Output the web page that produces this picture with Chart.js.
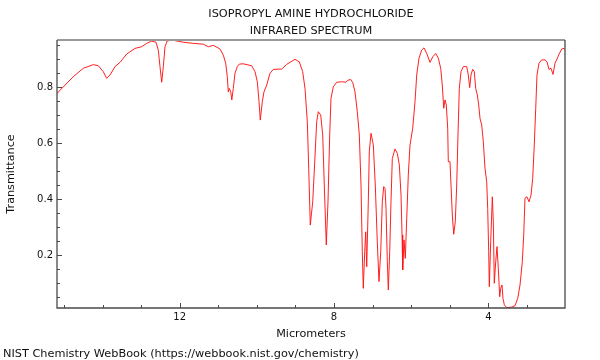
<!DOCTYPE html>
<html>
<head>
<meta charset="utf-8">
<script src="https://cdn.jsdelivr.net/npm/chart.js@4.4.1/dist/chart.umd.min.js"></script>
<style>
  html, body { margin: 0; padding: 0; background: #fff; }
  #wrap { width: 600px; height: 360px; }
</style>
</head>
<body>
<div id="wrap"><canvas id="c" width="600" height="360"></canvas></div>
<script>
const titleLines = ['ISOPROPYL AMINE HYDROCHLORIDE', 'INFRARED SPECTRUM'];
const xAxisTitle = 'Micrometers';
const yAxisTitle = 'Transmittance';
const footerText = 'NIST Chemistry WebBook (https://webbook.nist.gov/chemistry)';

const xTickLabels = [4, 8, 12];
const xMinorTicks = [3, 5, 6, 7, 9, 10, 11, 13, 14, 15];
const yTickLabels = [0.2, 0.4, 0.6, 0.8];
const yMinorTicks = [0.05, 0.1, 0.15, 0.25, 0.3, 0.35, 0.45, 0.5, 0.55, 0.65, 0.7, 0.75, 0.85, 0.9, 0.95];

const wavelengthUm = [
15.19, 14.759, 14.499, 14.240, 14.110, 13.981, 13.893, 13.807, 13.677, 13.548,
13.374, 13.159, 12.985, 12.856, 12.726, 12.615, 12.555, 12.511, 12.467, 12.425,
12.381, 12.322, 12.166, 11.907, 11.648, 11.388, 11.259, 11.129, 10.956, 10.870,
10.808, 10.766, 10.740, 10.714, 10.678, 10.650, 10.611, 10.567, 10.507, 10.455,
10.351, 10.134, 10.048, 9.988, 9.944, 9.911, 9.859, 9.815, 9.745, 9.659,
9.574, 9.444, 9.356, 9.226, 9.011, 8.900, 8.812, 8.752, 8.692, 8.656,
8.615, 8.552, 8.500, 8.449, 8.407, 8.345, 8.293, 8.252, 8.200, 8.156,
8.112, 8.078, 8.018, 7.930, 7.800, 7.689, 7.645, 7.567, 7.515, 7.456,
7.396, 7.344, 7.300, 7.267, 7.241, 7.204, 7.178, 7.152, 7.111, 7.085,
7.041, 6.981, 6.930, 6.878, 6.834, 6.789, 6.748, 6.712, 6.678, 6.652,
6.618, 6.592, 6.556, 6.523, 6.489, 6.419, 6.359, 6.307, 6.263, 6.237,
6.219, 6.185, 6.152, 6.115, 6.074, 6.030, 5.960, 5.900, 5.856, 5.797,
5.727, 5.667, 5.597, 5.511, 5.441, 5.364, 5.296, 5.234, 5.193, 5.156,
5.123, 5.089, 5.053, 5.037, 4.993, 4.967, 4.933, 4.897, 4.856, 4.819,
4.786, 4.752, 4.708, 4.648, 4.560, 4.519, 4.482, 4.449, 4.405, 4.363,
4.327, 4.285, 4.249, 4.215, 4.171, 4.130, 4.086, 4.042, 4.016, 3.990,
3.974, 3.938, 3.896, 3.870, 3.845, 3.808, 3.775, 3.741, 3.705, 3.679,
3.645, 3.619, 3.585, 3.523, 3.393, 3.308, 3.238, 3.178, 3.119, 3.082,
3.049, 2.997, 2.945, 2.893, 2.849, 2.808, 2.771, 2.738, 2.686, 2.616,
2.530, 2.478, 2.427, 2.375, 2.323, 2.271, 2.219, 2.167, 2.097, 2.038,
2.000
];

const transmittance = [
0.777, 0.838, 0.868, 0.881, 0.877, 0.856, 0.832, 0.844, 0.874, 0.889,
0.919, 0.939, 0.945, 0.957, 0.965, 0.961, 0.933, 0.874, 0.818, 0.874,
0.945, 0.966, 0.968, 0.961, 0.957, 0.954, 0.945, 0.950, 0.937, 0.915,
0.886, 0.838, 0.783, 0.796, 0.784, 0.755, 0.796, 0.850, 0.874, 0.883,
0.884, 0.877, 0.856, 0.820, 0.749, 0.683, 0.749, 0.784, 0.808, 0.850,
0.864, 0.865, 0.865, 0.882, 0.900, 0.891, 0.856, 0.796, 0.677, 0.511,
0.308, 0.391, 0.534, 0.677, 0.713, 0.701, 0.630, 0.451, 0.237, 0.391,
0.630, 0.761, 0.802, 0.818, 0.820, 0.818, 0.825, 0.828, 0.817, 0.784,
0.713, 0.630, 0.451, 0.213, 0.082, 0.213, 0.284, 0.159, 0.391, 0.570,
0.636, 0.594, 0.451, 0.249, 0.106, 0.213, 0.391, 0.445, 0.439, 0.368,
0.177, 0.076, 0.213, 0.391, 0.546, 0.580, 0.564, 0.523, 0.415, 0.273,
0.148, 0.255, 0.189, 0.332, 0.487, 0.594, 0.654, 0.749, 0.844, 0.904,
0.933, 0.941, 0.921, 0.889, 0.909, 0.921, 0.904, 0.868, 0.808, 0.725,
0.755, 0.737, 0.654, 0.534, 0.534, 0.451, 0.344, 0.275, 0.320, 0.451,
0.630, 0.796, 0.856, 0.874, 0.874, 0.844, 0.799, 0.844, 0.864, 0.856,
0.796, 0.773, 0.737, 0.689, 0.665, 0.606, 0.511, 0.463, 0.368, 0.213,
0.088, 0.249, 0.409, 0.320, 0.100, 0.177, 0.231, 0.154, 0.052, 0.082,
0.094, 0.046, 0.023, 0.013, 0.015, 0.020, 0.046, 0.094, 0.177, 0.273,
0.404, 0.409, 0.391, 0.415, 0.475, 0.594, 0.725, 0.844, 0.886, 0.898,
0.898, 0.891, 0.864, 0.868, 0.846, 0.886, 0.901, 0.918, 0.937, 0.939,
0.933
];

const X_MIN = 2.012, X_MAX = 15.181;
const Y_MIN = 0.0118, Y_MAX = 0.969;

const points = wavelengthUm.map((w, i) => ({ x: w, y: transmittance[i] }));

const FONT = 'DejaVu Sans';

const decorPlugin = {
  id: 'decor',
  afterDraw(chart) {
    const ctx = chart.ctx;
    const a = chart.chartArea;
    const xs = chart.scales.x, ys = chart.scales.y;
    ctx.save();
    // frame
    ctx.lineWidth = 2;
    ctx.strokeStyle = '#9a9a9a';
    ctx.beginPath(); ctx.moveTo(a.left, a.top); ctx.lineTo(a.right, a.top); ctx.stroke();
    ctx.lineWidth = 1.3;
    ctx.strokeStyle = '#4a4a4a';
    ctx.beginPath();
    ctx.moveTo(a.left, a.top); ctx.lineTo(a.left, a.bottom); ctx.lineTo(a.right, a.bottom); ctx.lineTo(a.right, a.top);
    ctx.stroke();
    // ticks (inward)
    ctx.lineWidth = 1;
    ctx.strokeStyle = '#4a4a4a';
    ctx.beginPath();
    xTickLabels.forEach(v => { const p = Math.round(xs.getPixelForValue(v)) + 0.5; ctx.moveTo(p, a.bottom); ctx.lineTo(p, a.bottom - 5); });
    xMinorTicks.forEach(v => { const p = Math.round(xs.getPixelForValue(v)) + 0.5; ctx.moveTo(p, a.bottom); ctx.lineTo(p, a.bottom - 3); });
    yTickLabels.forEach(v => { const p = Math.round(ys.getPixelForValue(v)) + 0.5; ctx.moveTo(a.left, p); ctx.lineTo(a.left + 5, p); });
    yMinorTicks.forEach(v => { const p = Math.round(ys.getPixelForValue(v)) + 0.5; ctx.moveTo(a.left, p); ctx.lineTo(a.left + 3, p); });
    ctx.stroke();
    // texts
    ctx.fillStyle = '#111';
    const cx = (a.left + a.right) / 2;
    ctx.textAlign = 'center';
    ctx.textBaseline = 'alphabetic';
    ctx.font = '11.3px "' + FONT + '"';
    ctx.fillText(titleLines[0], cx, 17);
    ctx.fillText(titleLines[1], cx, 33.5);
    ctx.font = '11.2px "' + FONT + '"';
    ctx.fillText(xAxisTitle, cx, 336.5);
    ctx.save();
    ctx.translate(14, 174);
    ctx.rotate(-Math.PI / 2);
    ctx.fillText(yAxisTitle, 0, 0);
    ctx.restore();
    ctx.textAlign = 'left';
    ctx.font = '11.3px "' + FONT + '"';
    ctx.fillText(footerText, 3, 357);
    ctx.restore();
  }
};

new Chart(document.getElementById('c'), {
  type: 'scatter',
  data: {
    datasets: [{
      data: points,
      showLine: true,
      borderColor: 'rgba(255,20,20,0.95)',
      borderWidth: 1,
      pointRadius: 0,
      tension: 0,
      fill: false
    }]
  },
  options: {
    responsive: false,
    animation: false,
    devicePixelRatio: 1,
    layout: { padding: { left: 0, right: 35, top: 40, bottom: 0 } },
    plugins: { legend: { display: false }, tooltip: { enabled: false }, title: { display: false } },
    scales: {
      x: {
        type: 'linear',
        position: 'bottom',
        reverse: true,
        min: X_MIN,
        max: X_MAX,
        grid: { display: false, drawTicks: false },
        border: { display: false },
        ticks: { color: '#111', font: { family: FONT, size: 10 }, padding: 3, maxRotation: 0, autoSkip: false,
                 callback: v => String(v) },
        afterBuildTicks: s => { s.ticks = xTickLabels.map(v => ({ value: v })); },
        afterFit: s => { s.height = 52; }
      },
      y: {
        type: 'linear',
        position: 'left',
        min: Y_MIN,
        max: Y_MAX,
        grid: { display: false, drawTicks: false },
        border: { display: false },
        ticks: { color: '#111', font: { family: FONT, size: 10 }, padding: 4, autoSkip: false,
                 callback: v => Number(v).toFixed(1) },
        afterBuildTicks: s => { s.ticks = yTickLabels.map(v => ({ value: v })); },
        afterFit: s => { s.width = 57; }
      }
    }
  },
  plugins: [decorPlugin]
});
</script>
</body>
</html>
